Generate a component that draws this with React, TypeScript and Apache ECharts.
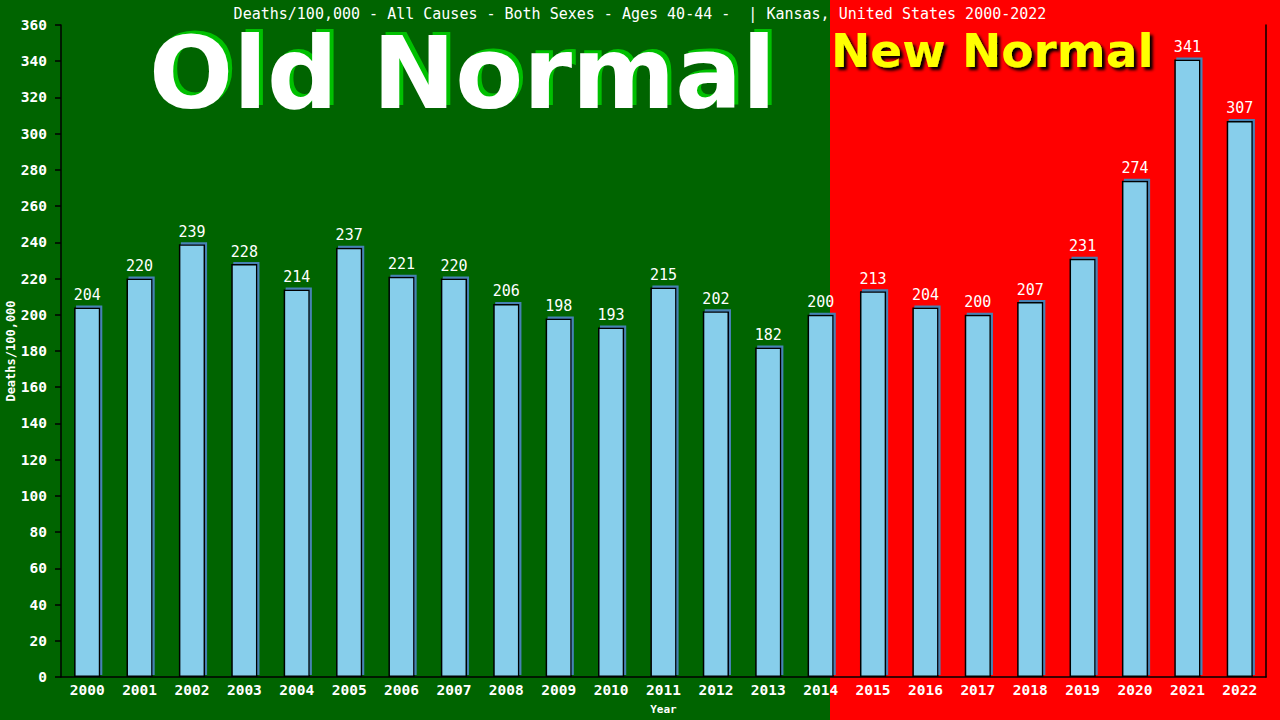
import React, { useEffect, useRef } from "react";
import * as echarts from "echarts";

const years = ["2000","2001","2002","2003","2004","2005","2006","2007","2008","2009","2010","2011","2012","2013","2014","2015","2016","2017","2018","2019","2020","2021","2022"];
const deaths = [204,220,239,228,214,237,221,220,206,198,193,215,202,182,200,213,204,200,207,231,274,341,307];
const titleText = "Deaths/100,000 - All Causes - Both Sexes - Ages 40-44 -  | Kansas, United States 2000-2022";
const yAxisName = "Deaths/100,000";
const xAxisName = "Year";
const oldLabel = "Old Normal";
const newLabel = "New Normal";

export default function App() {
  const ref = useRef<HTMLDivElement>(null);
  useEffect(() => {
    document.body.style.margin = "0";
    const chart = echarts.init(ref.current!, null, { renderer: "svg" });
    const mono = "DejaVu Sans Mono";
    chart.setOption({
      animation: false,
      backgroundColor: "#006400",
      title: {
        text: titleText,
        left: "center",
        top: 1,
        textStyle: { color: "#ffffff", fontFamily: mono, fontSize: 15, fontWeight: "normal" },
      },
      graphic: [
        { type: "rect", z: -100, silent: true, shape: { x: 830, y: 0, width: 450, height: 720 }, style: { fill: "#ff0000" } },
        { type: "text", z: 1, x: 153, y: 70, style: { text: oldLabel, fill: "#00c000", font: "bold 99px 'DejaVu Sans'", verticalAlign: "middle", align: "left" } },
        { type: "text", z: 2, x: 149, y: 73, style: { text: oldLabel, fill: "#ffffff", font: "bold 99px 'DejaVu Sans'", verticalAlign: "middle", align: "left" } },
        { type: "text", z: 2, x: 831, y: 50, style: { text: newLabel, fill: "#ffff00", font: "bold 47px 'DejaVu Sans'", verticalAlign: "middle", align: "left", textShadowColor: "#000000", textShadowOffsetX: 3, textShadowOffsetY: 3, textShadowBlur: 3 } },
      ],
      grid: { left: 61, right: 14, top: 25, bottom: 43, containLabel: false, outerBoundsMode: "none" },
      xAxis: {
        type: "category",
        data: years,
        name: xAxisName,
        nameLocation: "middle",
        nameGap: 27,
        nameMoveOverlap: false,
        nameTextStyle: { color: "#ffffff", fontFamily: mono, fontSize: 11, fontWeight: "bold" },
        axisLine: { lineStyle: { color: "#000000", width: 1.5 } },
        axisTick: { show: false },
        axisLabel: { color: "#ffffff", fontFamily: mono, fontSize: 14.5, fontWeight: "bold", margin: 5, interval: 0 },
      },
      yAxis: [
        {
          type: "value",
          min: 0,
          max: 360,
          interval: 20,
          name: yAxisName,
          nameLocation: "middle",
          nameGap: 44,
          nameMoveOverlap: false,
          nameTextStyle: { color: "#ffffff", fontFamily: mono, fontSize: 12, fontWeight: "bold" },
          axisLine: { show: true, lineStyle: { color: "#000000", width: 1.5 } },
          axisTick: { show: true, length: 6, lineStyle: { color: "#000000", width: 1.5 } },
          axisLabel: { color: "#ffffff", fontFamily: mono, fontSize: 14.5, fontWeight: "bold", margin: 14 },
          splitLine: { show: false },
        },
        {
          type: "value",
          min: 0,
          max: 360,
          interval: 20,
          position: "right",
          axisLine: { show: true, lineStyle: { color: "#000000", width: 1.5 } },
          axisTick: { show: false },
          axisLabel: { show: false },
          splitLine: { show: false },
        },
      ],
      series: [
        {
          type: "bar",
          data: deaths,
          barWidth: "50%",
          itemStyle: {
            color: "#87ceeb",
            borderColor: "#000000",
            borderWidth: 1.5,
            shadowColor: "#4682b4",
            shadowOffsetX: 2,
            shadowOffsetY: -2,
            shadowBlur: 0,
          },
          label: {
            show: true,
            position: "top",
            distance: 5,
            color: "#ffffff",
            fontFamily: mono,
            fontSize: 15,
          },
        },
      ],
    });
    return () => chart.dispose();
  }, []);
  return <div ref={ref} style={{ width: 1280, height: 720 }} />;
}
